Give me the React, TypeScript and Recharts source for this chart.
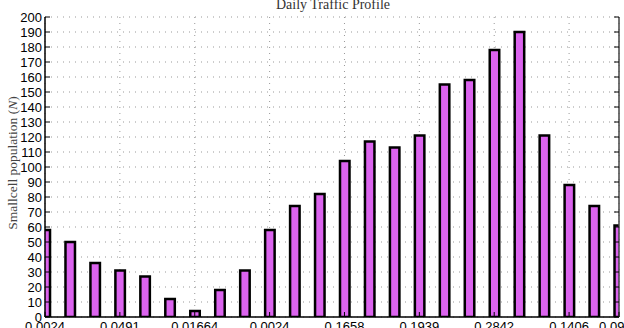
import React from 'react';
import { BarChart, Bar, XAxis, YAxis, CartesianGrid } from 'recharts';

// hourly smallcell counts, 24 bars
const slots = [0, 1, 2, 3, 4, 5, 6, 7, 8, 9, 10, 11, 12, 13, 14, 15, 16, 17, 18, 19, 20, 21, 22, 23];
const population = [58, 50, 36, 31, 27, 12, 4, 18, 31, 58, 74, 82, 104, 117, 113, 121, 155, 158, 178, 190, 121, 88, 74, 61];

const xTicks = [0, 3, 6, 9, 12, 15, 18, 21, 23];
const xTickLabels = ['0.0024', '0.0491', '0.01664', '0.0024', '0.1658', '0.1939', '0.2842', '0.1406', '0.0934'];
const yTicks = [0, 10, 20, 30, 40, 50, 60, 70, 80, 90, 100, 110, 120, 130, 140, 150, 160, 170, 180, 190, 200];

const data = slots.map((s, i) => ({ slot: s, count: population[i] }));

const sans = '"Liberation Sans", Arial, sans-serif';
const serif = '"Liberation Serif", "DejaVu Serif", serif';

const BottomTick = (props: any) => {
  const { x, y, payload } = props;
  const idx = xTicks.indexOf(payload.value);
  return (
    <g>
      <line x1={x} x2={x} y1={y - 5} y2={y - 10} stroke="#000" strokeWidth={1} />
      <text x={x} y={y} dy="0.71em" textAnchor="middle" fontSize={13} fontFamily={sans} fill="#000">
        {xTickLabels[idx]}
      </text>
    </g>
  );
};

const TopTick = (props: any) => {
  const { x, y } = props;
  return <line x1={x} x2={x} y1={y} y2={y + 5} stroke="#000" strokeWidth={1} />;
};

const LeftTick = (props: any) => {
  const { x, y, payload } = props;
  return (
    <g>
      <line x1={x + 3} x2={x + 8} y1={y} y2={y} stroke="#000" strokeWidth={1} />
      <text x={x} y={y} dy="0.355em" textAnchor="end" fontSize={13} fontFamily={sans} fill="#000">
        {payload.value}
      </text>
    </g>
  );
};

const RightTick = (props: any) => {
  const { x, y } = props;
  return <line x1={x} x2={x - 5} y1={y} y2={y} stroke="#000" strokeWidth={1} />;
};

export default function App() {
  return (
    <div style={{ position: 'absolute', left: 0, top: 0, width: 624, height: 328, background: '#fff' }}>
      <BarChart width={624} height={328} data={data} margin={{ top: 17, right: 0, bottom: 0, left: 0 }}>
        <CartesianGrid stroke="#999" strokeDasharray="1 5" />
        <XAxis
          dataKey="slot"
          type="number"
          domain={[0, 23]}
          allowDataOverflow
          ticks={xTicks}
          interval={0}
          height={11}
          tickSize={0}
          tickMargin={5}
          tick={<BottomTick />}
          axisLine={{ stroke: '#000', strokeWidth: 1.5 }}
        />
        <XAxis
          xAxisId="top"
          orientation="top"
          type="number"
          domain={[0, 23]}
          allowDataOverflow
          ticks={xTicks}
          interval={0}
          height={0}
          tickSize={0}
          tickMargin={0}
          tick={<TopTick />}
          axisLine={{ stroke: '#000', strokeWidth: 1 }}
        />
        <YAxis
          type="number"
          domain={[0, 200]}
          allowDataOverflow
          ticks={yTicks}
          interval={0}
          width={45}
          tickSize={0}
          tickMargin={3}
          tick={<LeftTick />}
          axisLine={{ stroke: '#000', strokeWidth: 1.5 }}
        />
        <YAxis
          yAxisId="right"
          orientation="right"
          type="number"
          domain={[0, 200]}
          allowDataOverflow
          ticks={yTicks}
          interval={0}
          width={5}
          tickSize={0}
          tickMargin={0}
          tick={<RightTick />}
          axisLine={{ stroke: '#444', strokeWidth: 1.5 }}
        />
        <Bar
          dataKey="count"
          barSize={9.5}
          fill="#DB63EE"
          stroke="#000"
          strokeWidth={2.5}
          isAnimationActive={false}
        />
        <text x={333} y={9} textAnchor="middle" fontSize={14} fontFamily={serif} fill="#333">
          Daily Traffic Profile
        </text>
        <text
          x={17}
          y={163}
          transform="rotate(-90 17 163)"
          textAnchor="middle"
          fontSize={13.5}
          fontFamily={serif}
          fill="#444"
        >
          Smallcell population (<tspan fontStyle="italic">N</tspan>)
        </text>
      </BarChart>
    </div>
  );
}
